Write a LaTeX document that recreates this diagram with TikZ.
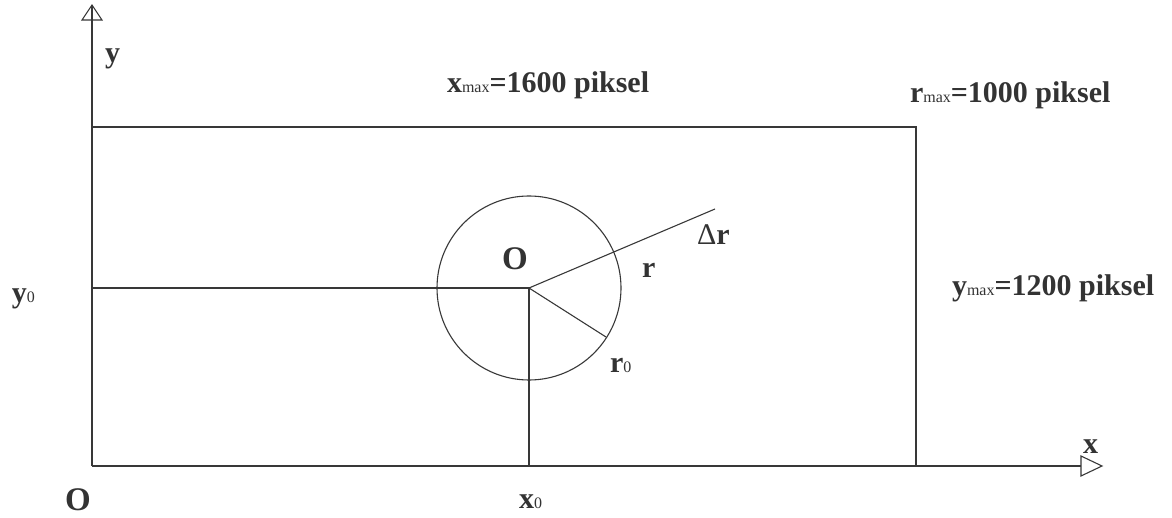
\documentclass[tikz,border=0pt]{standalone}
\usepackage{fontspec}
\setmainfont{Liberation Serif}
\begin{document}
\begin{tikzpicture}[x=1pt,y=-1pt,
  ln/.style={draw=black!78,line width=1.1pt},
  lbl/.style={inner sep=0pt,outer sep=0pt,anchor=base west,text=black!80,font=\fontsize{30}{32}\selectfont\bfseries},
  bigO/.style={lbl,font=\fontsize{33}{34}\selectfont\bfseries}]
\newcommand{\smsub}[1]{{\fontsize{16}{16}\selectfont\mdseries #1}}
\useasboundingbox (0,0) rectangle (1172,518);
% key points
\coordinate (O) at (92,466);
\coordinate (ytop) at (92,5);
\coordinate (xbase) at (1081,466);
\coordinate (xtip) at (1102,466);
\coordinate (rectTL) at (92,127);
\coordinate (rectBR) at (916,466);
\coordinate (C) at (529,288);
\coordinate (y0pt) at (92,288);
\coordinate (x0pt) at (529,466);
% rectangle (left and bottom sides are the axes)
\draw[ln] (rectTL) -| (rectBR);
% axes
\draw[ln] (O) -- (ytop);
\draw[ln] (O) -- (xbase);
\draw[ln,line join=miter] (ytop) -- (82,20) -- (102,20) -- cycle;
\draw[ln,line join=miter] (xtip) -- (1081,456) -- (1081,476) -- cycle;
% circle and radii
\draw[ln] (C) circle[radius=92];
\draw[ln] (y0pt) -- (C) -- (x0pt);
\coordinate (rtip) at (715,209);
\coordinate (r0tip) at (606,337);
\draw[ln] (C) -- (rtip);
\draw[ln] (C) -- (r0tip);
% labels
\node[lbl] (ylab) at (105,63) {y};
\node[lbl] (xlab) at (1083,453) {x};
\node[bigO] (Olab) at (65,510) {O};
\node[bigO] (Oc) at (502,270) {O};
\node[lbl] (xmax) at (447,93) {x\smsub{max}=1600 piksel};
\node[lbl] (rmax) at (910,103) {r\smsub{max}=1000 piksel};
\node[lbl] (ymax) at (952,296) {y\smsub{max}=1200 piksel};
\node[lbl] (y0) at (12,303) {y\smsub{0}};
\node[lbl] (x0) at (519,508) {x\smsub{0}};
\node[lbl] (r0) at (610,373) {r\smsub{0}};
\node[lbl] (rl) at (642,278) {r};
\node[lbl] (dr) at (697,245) {{\mdseries\symbol{"0394}}r};
\end{tikzpicture}
\end{document}
